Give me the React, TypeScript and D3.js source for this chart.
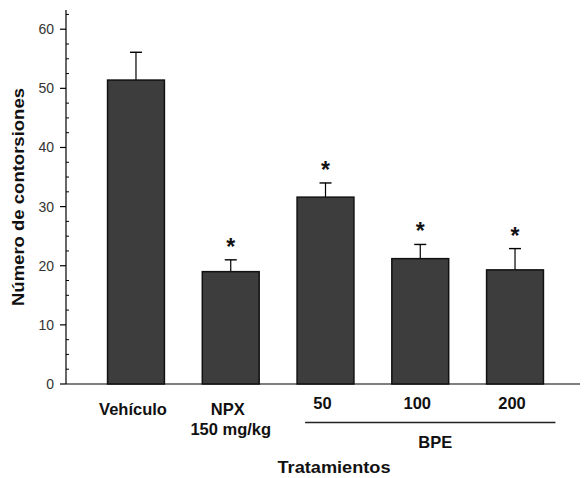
import React from "react";
import * as d3 from "d3";

// values
const categories = ["Vehículo", "NPX", "50", "100", "200"];
const labelLines = [["Vehículo"], ["NPX", "150 mg/kg"], ["50"], ["100"], ["200"]];
const means = [51.4, 19.0, 31.6, 21.2, 19.3];
const errors = [4.7, 2.0, 2.4, 2.4, 3.6];
const significant = [false, true, true, true, true];
const yTicks = [0, 10, 20, 30, 40, 50, 60];
const bpeGroup = ["50", "100", "200"];

const W = 584;
const H = 478;
const font = "'Liberation Sans', Arial, Helvetica, sans-serif";

const App: React.FC = () => {
  const axisX = 66;
  const axisRight = 580;
  const y = d3.scaleLinear().domain([0, 63.25]).range([384, 10]);
  const x = d3
    .scaleBand()
    .domain(categories)
    .range([88.6, 562.4])
    .paddingInner(0.4)
    .paddingOuter(0.2);
  const bw = x.bandwidth();
  const minorTicks = d3.range(2.5, 63, 2.5).filter((v) => v % 10 !== 0);
  const cap = 6;

  const bpeStart = (x(bpeGroup[0]) ?? 0) + 8;
  const bpeEnd = (x(bpeGroup[bpeGroup.length - 1]) ?? 0) + bw + 12;

  return (
    <svg
      width={W}
      height={H}
      style={{ position: "absolute", left: 0, top: 0, background: "#fff" }}
      fontFamily={font}
    >
      {/* y axis */}
      <line x1={axisX} x2={axisX} y1={y(0)} y2={y(63.25)} stroke="#000" strokeWidth={1.2} />
      {yTicks.map((t) => (
        <g key={t}>
          <line x1={axisX - 6} x2={axisX} y1={y(t)} y2={y(t)} stroke="#000" strokeWidth={1.2} />
          <text
            x={axisX - 12}
            y={y(t)}
            dy="0.35em"
            textAnchor="end"
            fontSize={14}
            fill="#333"
          >
            {t}
          </text>
        </g>
      ))}
      {minorTicks.map((t) => (
        <line key={t} x1={axisX} x2={axisX + 3} y1={y(t)} y2={y(t)} stroke="#000" strokeWidth={1} />
      ))}

      {/* x axis */}
      <line x1={axisX} x2={axisRight} y1={y(0)} y2={y(0)} stroke="#000" strokeWidth={1.2} />

      {/* bars, error bars, stars */}
      {categories.map((c, i) => {
        const x0 = x(c) ?? 0;
        const cx = x0 + bw / 2;
        const top = y(means[i]);
        const errTop = y(means[i] + errors[i]);
        return (
          <g key={c}>
            <line x1={cx} x2={cx} y1={top} y2={errTop} stroke="#000" strokeWidth={1.2} />
            <line x1={cx - cap} x2={cx + cap} y1={errTop} y2={errTop} stroke="#000" strokeWidth={1.4} />
            <rect
              x={x0}
              y={top}
              width={bw}
              height={y(0) - top}
              fill="#3d3d3d"
              stroke="#111"
              strokeWidth={1.5}
            />
            {significant[i] && (
              <text x={cx} y={errTop - 5} textAnchor="middle" fontSize={23} fontWeight="bold" fill="#111">
                *
              </text>
            )}
          </g>
        );
      })}

      {/* category labels */}
      {categories.map((c, i) => {
        const cx = (x(c) ?? 0) + bw / 2 - 3;
        const lines = labelLines[i];
        const base = bpeGroup.includes(c) ? 409 : 415;
        return (
          <text key={c} textAnchor="middle" fontSize={16.5} fontWeight="bold" fill="#111">
            {lines.map((l, j) => (
              <tspan key={j} x={cx + (j > 0 ? 3 : 0)} y={base + j * 20}>
                {l}
              </tspan>
            ))}
          </text>
        );
      })}

      {/* BPE group */}
      <line x1={bpeStart} x2={bpeEnd} y1={422.5} y2={422.5} stroke="#222" strokeWidth={1.6} />
      <text x={(bpeStart + bpeEnd) / 2 + 5} y={448} textAnchor="middle" fontSize={16.5} fontWeight="bold" fill="#111">
        BPE
      </text>

      {/* axis titles */}
      <text
        x={334}
        y={473}
        textAnchor="middle"
        fontSize={16}
        fontWeight="bold"
        fill="#111"
        textLength={113}
        lengthAdjust="spacingAndGlyphs"
      >
        Tratamientos
      </text>
      <text
        transform={`translate(24, 197) rotate(-90)`}
        textAnchor="middle"
        fontSize={16}
        fontWeight="bold"
        fill="#111"
        textLength={218}
        lengthAdjust="spacingAndGlyphs"
      >
        Número de contorsiones
      </text>
    </svg>
  );
};

export default App;
